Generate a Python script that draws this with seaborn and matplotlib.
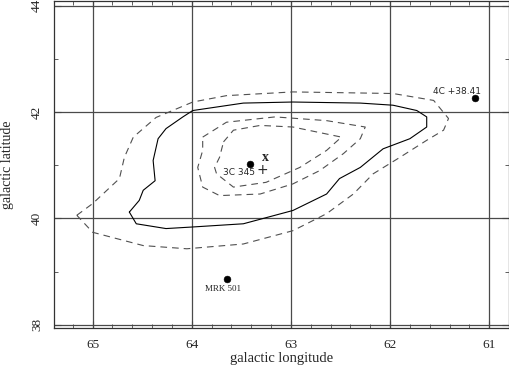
import matplotlib
matplotlib.use("Agg")
import matplotlib.pyplot as plt
import seaborn as sns
import pandas as pd

# ---- data (galactic longitude, latitude) ----
outer_dashed_lon = [65.16, 65.00, 64.73, 64.68, 64.59, 64.36, 63.99, 63.65, 62.98, 61.97, 61.56, 61.41,
                    61.46, 61.63, 61.90, 62.17, 62.37, 62.64, 62.98, 63.48, 64.05, 64.49, 65.00, 65.16]
outer_dashed_lat = [40.06, 40.28, 40.75, 41.15, 41.53, 41.90, 42.19, 42.31, 42.38, 42.35, 42.22, 41.88,
                    41.66, 41.47, 41.15, 40.84, 40.46, 40.09, 39.77, 39.52, 39.43, 39.49, 39.74, 40.06]

solid_lon = [64.63, 64.56, 64.26, 63.99, 63.48, 62.98, 62.64, 62.51, 62.30, 62.07, 61.80, 61.63, 61.63,
             61.73, 61.97, 62.30, 62.98, 63.48, 63.99, 64.09, 64.26, 64.34, 64.39, 64.37, 64.49, 64.53, 64.63]
solid_lat = [40.12, 39.90, 39.81, 39.84, 39.90, 40.15, 40.46, 40.75, 40.96, 41.31, 41.50, 41.72, 41.91,
             42.03, 42.13, 42.17, 42.19, 42.17, 42.03, 41.91, 41.69, 41.50, 41.09, 40.71, 40.53, 40.34, 40.12]

mid_dashed_lon = [63.89, 63.65, 63.16, 62.64, 62.25, 62.30, 62.47, 62.71, 62.98, 63.31, 63.72, 63.89,
                  63.94, 63.89, 63.89]
mid_dashed_lat = [41.53, 41.81, 41.91, 41.84, 41.72, 41.50, 41.22, 40.90, 40.65, 40.46, 40.43, 40.59,
                  40.96, 41.28, 41.53]

inner_dashed_lon = [63.68, 63.58, 63.31, 62.98, 62.49, 62.64, 62.91, 63.25, 63.58, 63.75, 63.77, 63.72, 63.68]
inner_dashed_lat = [41.44, 41.66, 41.75, 41.72, 41.53, 41.28, 40.96, 40.68, 40.59, 40.84, 40.96, 41.15, 41.44]

source_names = ["3C 345", "4C +38.41", "MRK 501"]
source_lon = [63.41, 61.14, 63.64]
source_lat = [41.02, 42.27, 38.87]

x_mark = (63.26, 41.15)
plus_mark = (63.29, 40.92)

xticks = [65, 64, 63, 62, 61]
yticks = [38, 40, 42, 44]

# ---- style ----
sns.set_style("ticks")
plt.rcParams["font.family"] = ["Liberation Serif", "DejaVu Serif"]

fig = plt.figure(figsize=(5.10, 3.68), dpi=100)
ax = fig.add_axes([0.1059, 0.1087, 0.8921, 0.8886])

grid_c = "#4a4a4a"
for xv in xticks:
    ax.axvline(xv, color=grid_c, lw=0.9, zorder=0)
for yv in yticks:
    ax.axhline(yv, color=grid_c, lw=0.9, zorder=0)

def draw(lon, lat, **kw):
    df = pd.DataFrame({"lon": lon, "lat": lat})
    sns.lineplot(data=df, x="lon", y="lat", sort=False, estimator=None, ax=ax, **kw)

dash_kw = dict(color="#505050", lw=0.8, linestyle=(0, (6, 4.5)))
draw(outer_dashed_lon, outer_dashed_lat, **dash_kw)
draw(mid_dashed_lon, mid_dashed_lat, **dash_kw)
draw(inner_dashed_lon, inner_dashed_lat, **dash_kw)
draw(solid_lon, solid_lat, color="black", lw=0.8)

sns.scatterplot(x=source_lon, y=source_lat, color="black", s=24, edgecolor="black", ax=ax, zorder=5)

ax.text(source_lon[0] - 0.05, source_lat[0] - 0.08, source_names[0], ha="right", va="top",
        fontsize=6.5, family="DejaVu Sans")
ax.text(source_lon[1] - 0.06, source_lat[1] + 0.04, source_names[1], ha="right", va="bottom",
        fontsize=6.5, family="DejaVu Sans")
ax.text(source_lon[2] + 0.05, source_lat[2] - 0.12, source_names[2], ha="center", va="top",
        fontsize=6.5)
ax.text(x_mark[0], x_mark[1], "x", ha="center", va="center", fontsize=10, fontweight="bold")
ax.text(plus_mark[0], plus_mark[1], "+", ha="center", va="center", fontsize=10, family="DejaVu Sans")

ax.set_xlim(65.39, 60.80)
ax.set_ylim(37.94, 44.09)
ax.set_xticks(xticks)
ax.set_yticks(yticks)
ax.set_xticks([65.2, 64.8, 64.6, 64.4, 64.2, 63.8, 63.6, 63.4, 63.2, 62.8, 62.6, 62.4, 62.2,
               61.8, 61.6, 61.4, 61.2, 60.8], minor=True)
ax.set_yticks([39, 41, 43], minor=True)
ax.set_xticklabels([str(v) for v in xticks], fontsize=9.5)
ax.set_yticklabels([str(v) for v in yticks], fontsize=9.5, rotation=90, va="center")
ax.tick_params(which="both", direction="in", top=True, right=True, color="#444444")
ax.tick_params(which="major", length=5, width=0.8, pad=8)
ax.tick_params(which="minor", length=3, width=0.6)
ax.set_xlabel("galactic longitude", fontsize=10.5, labelpad=1)
ax.set_ylabel("galactic latitude", fontsize=10, labelpad=12)
for s in ax.spines.values():
    s.set_color("#333333")
    s.set_linewidth(0.9)

fig.savefig("out.png", dpi=100)
